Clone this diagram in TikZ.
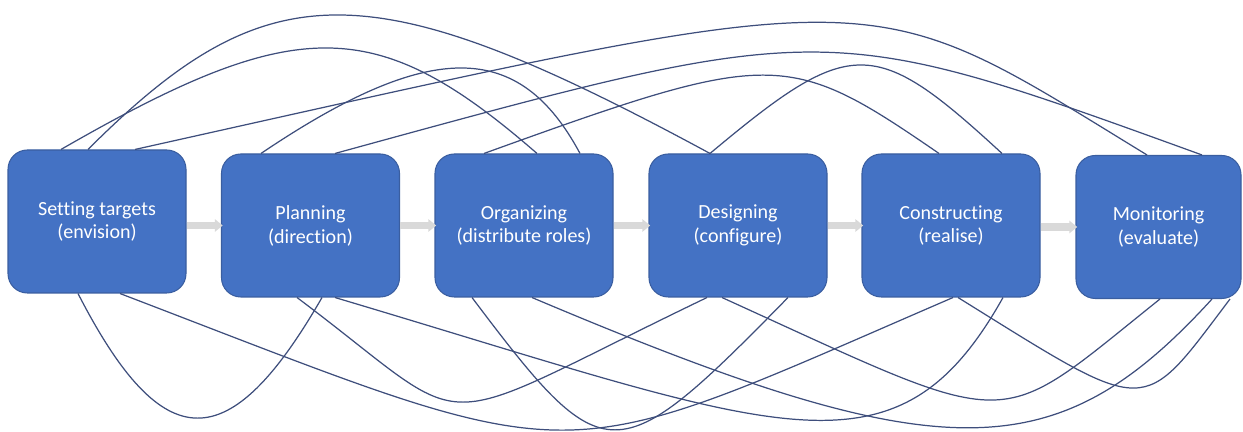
\documentclass[tikz,border=0pt]{standalone}
\usepackage{fontspec}
\setmainfont{Carlito}[Ligatures=NoCommon]
\usepackage{xcolor}
\usepackage{tikz}
\usetikzlibrary{arrows.meta, positioning}

\definecolor{stageblue}{RGB}{68,114,196}
\definecolor{stageedge}{RGB}{58,94,160}
\definecolor{linkblue}{RGB}{62,78,124}
\definecolor{flowgrey}{RGB}{217,217,217}

\begin{document}
\begin{tikzpicture}[
    stage/.style={rectangle, rounded corners=11pt, minimum width=3.56cm, minimum height=2.86cm, text centered, align=center, draw=stageedge, fill=stageblue, line width=0.6pt, text=white, font=\fontsize{11.4}{13.6}\selectfont},
    flow/.style={-{Triangle[width=7pt,length=4.5pt]}, draw=flowgrey, line width=4pt, shorten >=-1pt},
    link/.style={draw=linkblue, line width=0.7pt}
]
\useasboundingbox (0,0) rectangle (24.86,8.64);

% Stage boxes
\node[stage] (set) at (1.94,4.21) {Setting targets\\(envision)};
\node[stage] (plan) at (6.21,4.13) {Planning\\(direction)};
\node[stage] (org) at (10.48,4.13) {Organizing\\(distribute roles)};
\node[stage] (design) at (14.76,4.13) {Designing\\(configure)};
\node[stage] (build) at (19.02,4.13) {Constructing\\(realise)};
\node[stage, minimum width=3.3cm] (monitor) at (23.17,4.10) {Monitoring\\(evaluate)};

% Flow arrows
\draw[flow] (set.east |- plan.west) -- (plan.west);
\draw[flow] (plan) -- (org);
\draw[flow] (org) -- (design);
\draw[flow] (design) -- (build);
\draw[flow] (build.east |- monitor.west) -- (monitor.west);

% Links above the boxes
\draw[link] ([xshift=-0.18cm]set.north) .. controls (5.36,9.25) and (7.40,9.25) .. ([xshift=-0.56cm]design.north);
\draw[link] ([xshift=-0.72cm]set.north) .. controls (5.94,8.37) and (7.52,8.37) .. ([xshift=0.26cm]org.north);
\draw[link] ([xshift=0.76cm]set.north) .. controls (18.00,9.06) and (17.18,9.06) .. ([xshift=-0.23cm]monitor.north);
\draw[link] ([xshift=0.49cm]plan.north) .. controls (16.58,8.28) and (16.48,8.28) .. ([xshift=0.87cm]monitor.north);
\draw[link] ([xshift=-0.99cm]plan.north) .. controls (8.60,7.85) and (10.38,7.85) .. ([xshift=1.12cm]org.north);
\draw[link] ([xshift=-0.80cm]org.north) .. controls (15.46,7.66) and (15.74,7.66) .. ([xshift=-0.24cm]build.north);
\draw[link] ([xshift=-0.56cm]design.north) .. controls (17.02,7.93) and (17.48,7.93) .. ([xshift=1.02cm]build.north);

% Links below the boxes
\draw[link] ([xshift=-0.38cm]set.south) .. controls (3.26,-0.54) and (4.58,-0.54) .. ([xshift=0.23cm]plan.south);
\draw[link] ([xshift=0.46cm]set.south) .. controls (11.88,-0.86) and (10.84,-0.86) .. ([xshift=0.04cm]build.south);
\draw[link] ([xshift=-0.27cm]plan.south) .. controls (9.66,-0.10) and (8.34,-0.10) .. ([xshift=-0.62cm]design.south);
\draw[link] ([xshift=0.49cm]plan.south) .. controls (15.60,0.04) and (17.90,-1.16) .. ([xshift=1.04cm]build.south);
\draw[link] ([xshift=-1.04cm]org.south) .. controls (12.10,-0.84) and (12.30,-0.84) .. ([xshift=1.00cm]design.south);
\draw[link] ([xshift=0.16cm]org.south) .. controls (18.84,-0.78) and (21.10,-0.78) .. ([xshift=1.07cm]monitor.south);
\draw[link] ([xshift=-0.32cm]design.south) .. controls (20.44,-0.04) and (19.82,-0.04) .. ([xshift=0.03cm]monitor.south);
\draw[link] ([xshift=0.14cm]build.south) .. controls (23.04,0.28) and (22.80,0.28) .. ([xshift=1.43cm]monitor.south);

\end{tikzpicture}
\end{document}
